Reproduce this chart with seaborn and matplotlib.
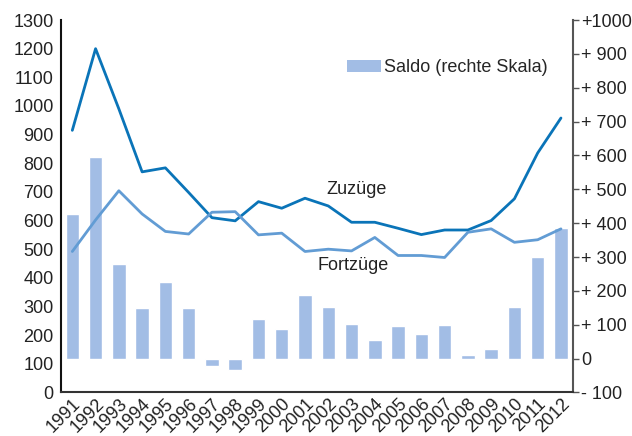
import numpy as np
import pandas as pd
import seaborn as sns
import matplotlib.pyplot as plt
from matplotlib.patches import Patch

# data
years = [str(y) for y in range(1991, 2013)]
zuzuege = [915, 1200, 990, 770, 784, 698, 610, 599, 666, 643, 678,
           651, 594, 594, 573, 551, 567, 567, 600, 676, 836, 958]
fortzuege = [492, 602, 704, 623, 562, 553, 629, 631, 550, 556, 492,
             500, 494, 541, 478, 478, 471, 559, 571, 524, 533, 571]
saldo = [428, 595, 279, 148, 225, 149, -22, -34, 118, 87, 188,
         152, 102, 54, 95, 74, 98, 11, 28, 153, 301, 386]

left_ticks = list(range(0, 1400, 100))
right_ticks = list(range(-100, 1100, 100))
right_labels = ["- 100", "0"] + [f"+ {v}" for v in right_ticks[2:-1]] + ["+1000"]

c_zu = "#0a74b8"
c_fort = "#629cd4"
c_bar = "#a2bde5"

sns.set_theme(style="white")
plt.rcParams['font.family'] = ['Liberation Sans', 'DejaVu Sans']

df = pd.DataFrame({"year": years, "pos": np.arange(len(years)),
                   "zu": zuzuege, "fort": fortzuege, "saldo": saldo})

fig, ax = plt.subplots(figsize=(6.32, 4.36), dpi=100)
fig.subplots_adjust(left=0.096, right=0.906, bottom=0.1, top=0.954)
ax2 = ax.twinx()

sns.barplot(data=df, x="year", y="saldo", color=c_bar, saturation=1,
            width=0.58, ax=ax2)
sns.lineplot(data=df, x="pos", y="zu", color=c_zu, lw=2.0, ax=ax)
sns.lineplot(data=df, x="pos", y="fort", color=c_fort, lw=2.0, ax=ax)

ax.set_zorder(ax2.get_zorder() + 1)
ax.patch.set_visible(False)

ax.set_xlim(-0.5, len(years) - 0.5)
ax.set_ylim(0, 1300)
ax2.set_ylim(-100, 1000)

ax.set_yticks(left_ticks)
ax.set_yticklabels([str(v) for v in left_ticks], fontsize=13, color="#222")
ax.tick_params(axis="y", length=0, pad=5)

ax2.set_yticks(right_ticks)
ax2.set_yticklabels(right_labels, fontsize=13, color="#222")
ax2.tick_params(axis="y", length=4, width=1, color="#555", pad=2, right=True)

ax.set_xticks(np.arange(len(years)))
ax.set_xticklabels(years, rotation=45, ha="right", rotation_mode="anchor",
                   fontsize=13, color="#222")
ax.tick_params(axis="x", length=0, pad=2)
ax2.tick_params(axis="x", length=0, labelbottom=False)

ax.set_xlabel("")
ax.set_ylabel("")
ax2.set_xlabel("")
ax2.set_ylabel("")

for a in (ax, ax2):
    a.spines["top"].set_visible(False)
ax.spines["left"].set_color("#111")
ax.spines["left"].set_linewidth(1.5)
ax.spines["bottom"].set_color("#333")
ax.spines["bottom"].set_linewidth(1.5)
ax.spines["right"].set_visible(False)
ax2.spines["left"].set_visible(False)
ax2.spines["bottom"].set_visible(False)
ax2.spines["right"].set_color("#555")
ax2.spines["right"].set_linewidth(1.5)

ax.text(10.9, 707, "Zuzüge", fontsize=13, color="#222", va="center", ha="left")
ax.text(10.55, 442, "Fortzüge", fontsize=13, color="#222", va="center", ha="left")

handle = Patch(facecolor=c_bar, edgecolor="none")
ax.legend([handle], ["Saldo (rechte Skala)"], loc="center left",
          bbox_to_anchor=(0.545, 0.872), frameon=False, fontsize=13,
          handlelength=1.9, handleheight=0.6, handletextpad=0.15,
          borderaxespad=0)

fig.savefig("out.png", dpi=100)
